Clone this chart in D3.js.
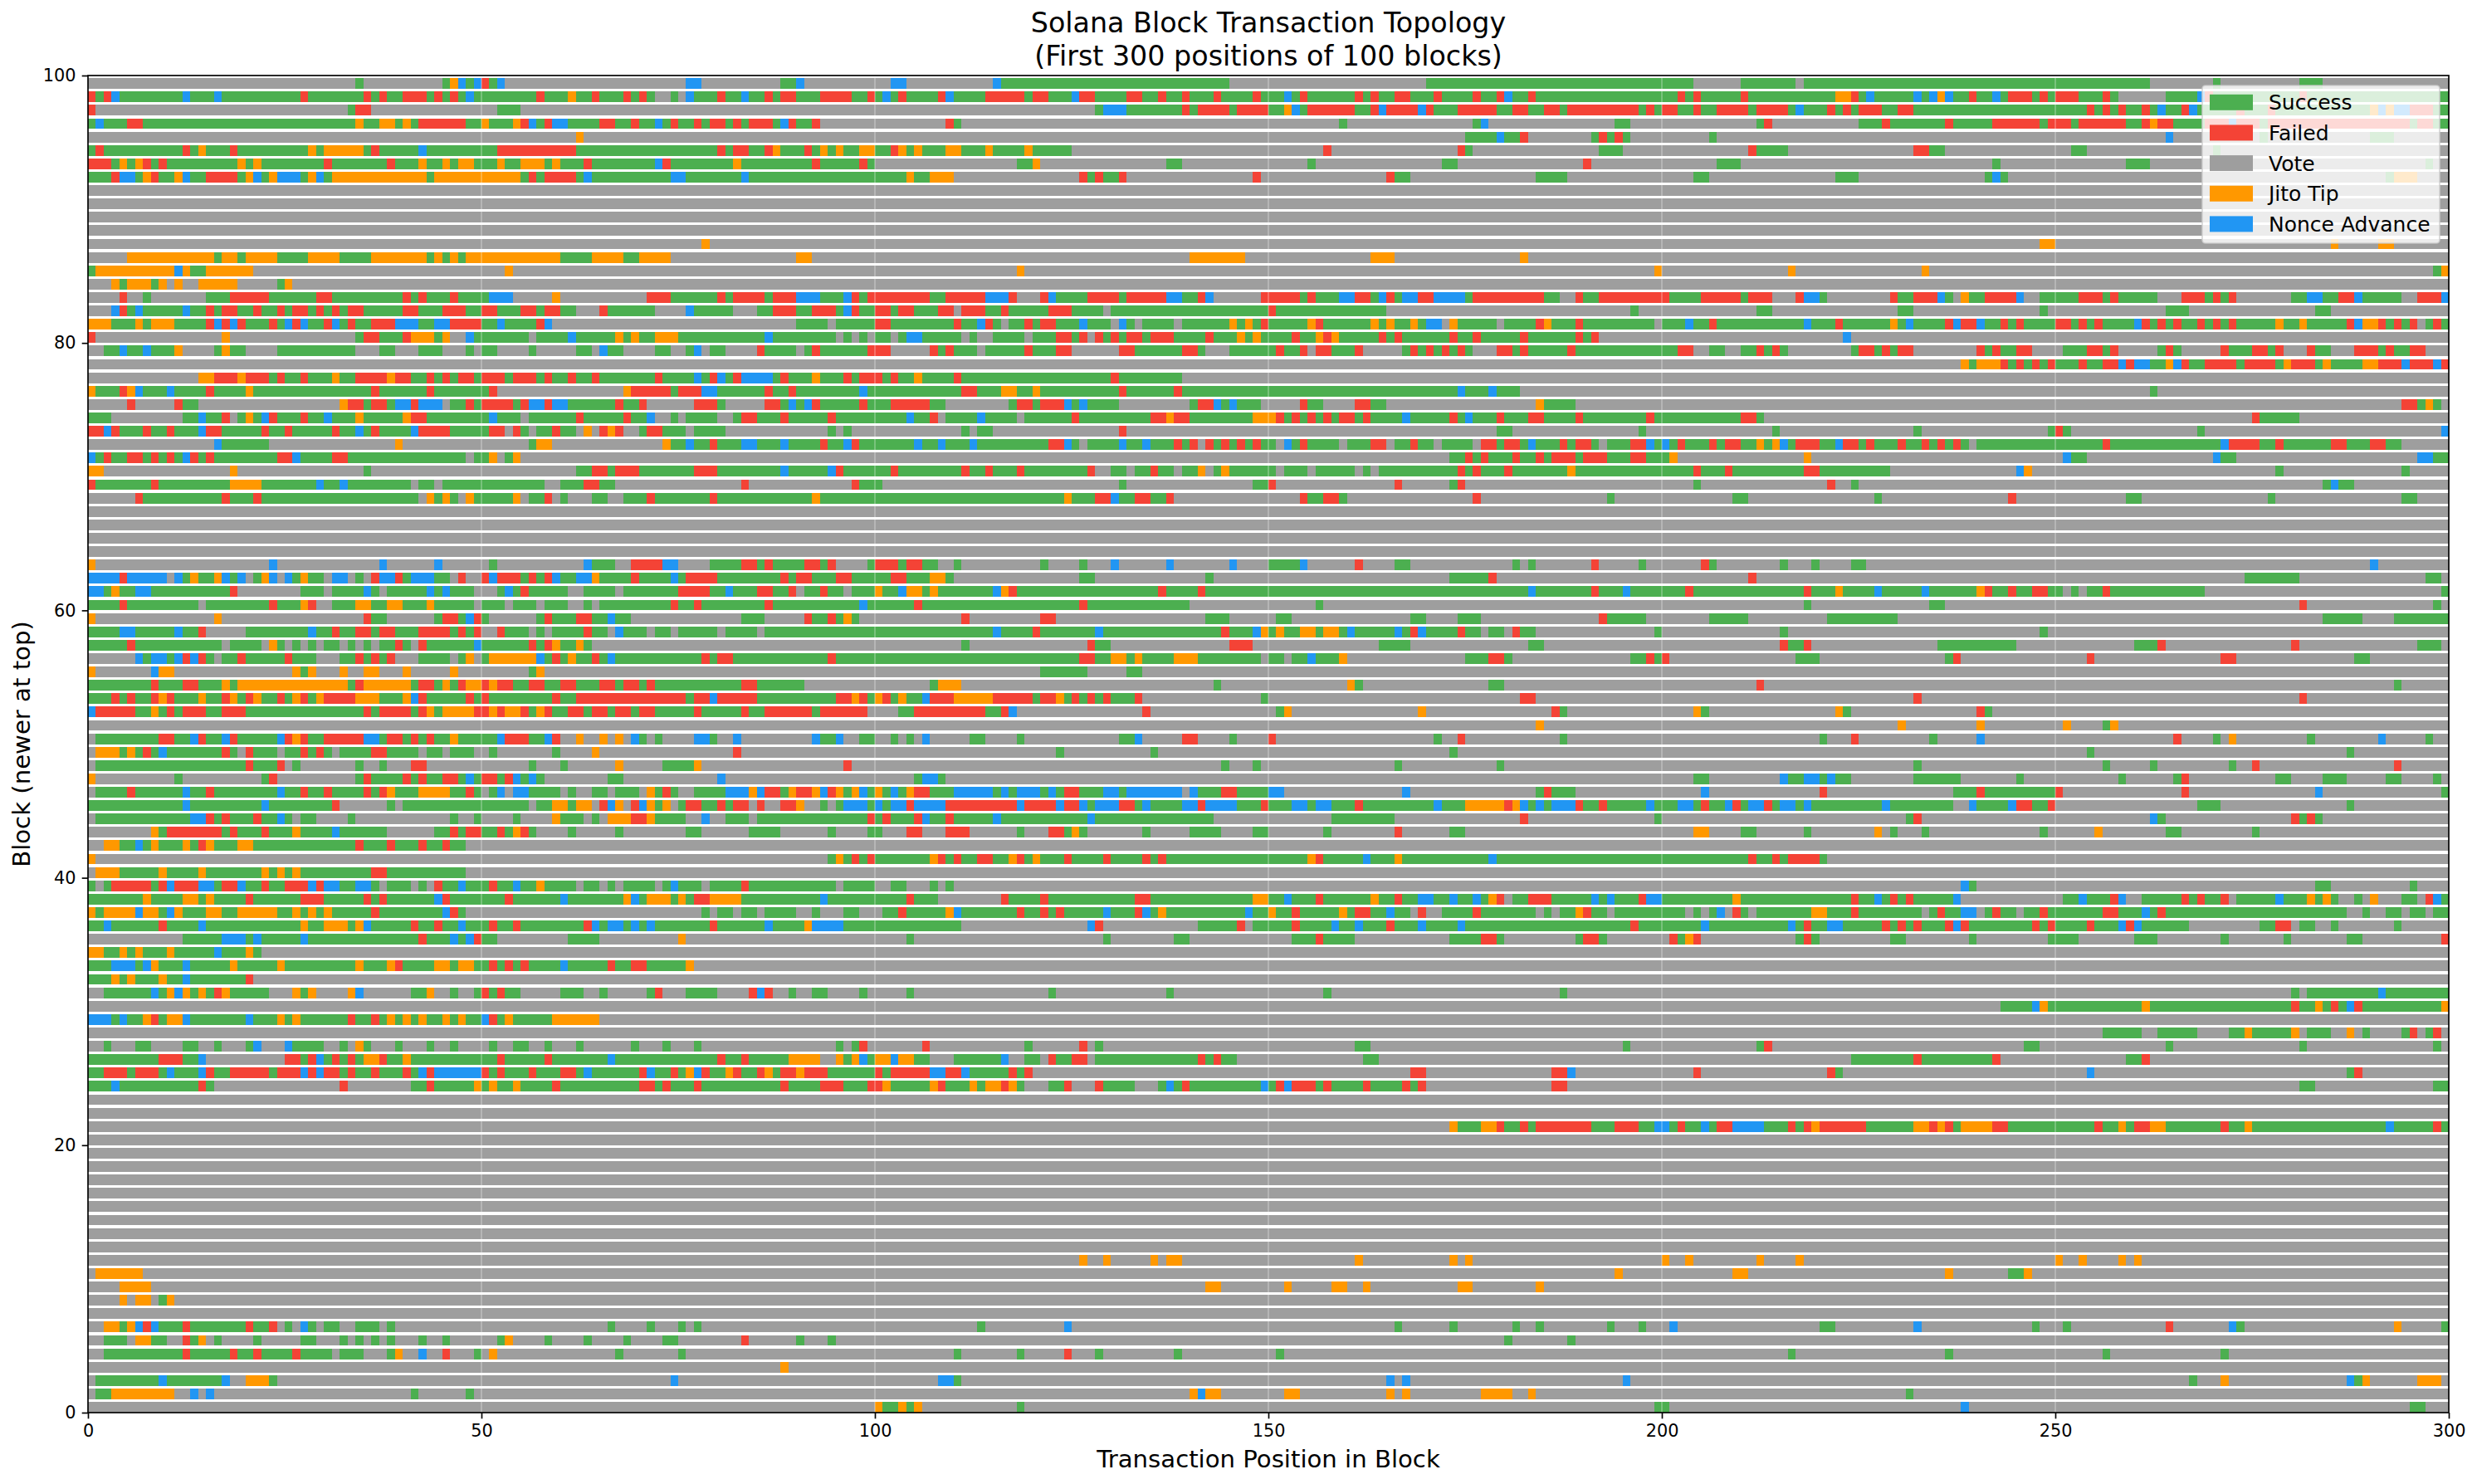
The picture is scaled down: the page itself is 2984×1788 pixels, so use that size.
<!DOCTYPE html>
<html>
<head>
<meta charset="utf-8">
<script src="https://d3js.org/d3.v7.min.js"></script>
<style>
html,body{margin:0;padding:0;background:#fff}
svg{display:block}
text{font-family:"DejaVu Sans",sans-serif;fill:#000}
</style>
</head>
<body>
<svg id="chart" width="2984" height="1788"></svg>
<script>
// Status categories: code letter, legend label, colour
const statusCodes = ["s","f","v","j","n"];
const statusLabels = ["Success","Failed","Vote","Jito Tip","Nonce Advance"];
const statusColors = ["#4CAF50","#F44336","#9E9E9E","#FF9800","#2196F3"];
const xTickValues = [0,50,100,150,200,250,300];
const yTickValues = [0,20,40,60,80,100];
const positionCount = 300;
const blockCount = 100;

// Each string is one block. "start:runs" = from position start, a list of status letter + run length.
// Anything not listed is a Vote. Listed top to bottom (block 99 first).
const blocks99to75 = [
"34:s 45:sjnsnfsn 76:n2 88:s2n 102:n2 115:ns29 170:s34 210:s7 218:s44 270:s 281:s3",
"0:fsfns8ns3ns10fs7fsfs2f3sfsfsns8fs3js2fs3fsfsv2svns3fs2ns2fsf2s3f4s2f 100:snsfs4fns4f5sf2s3nf2s4f2s2fs2fs3fs4fs3nsfs6fsfs2f2s3fs4fs2fns2fs16 200:s2fsfs5fs11j2fsns5nsnjns2fs2nsf3sfsf3s3fsv6s4nfs11fs18",
"0:f 33:sf2 52:s3 128:sn3s7fsf4sf4s2jnsf6s2fnf4nfs3f5s2f2s2f2sf9sfs 200:f2s2fs2f4sf4sns3fsfsf3s2f2s22fsfsfs2fsns2fns5fs3fs12jnjn2f3s2",
"0:sns3f2s27js2j2sjsf6s2js3jfnsfn2s4f2s2fs2nsfs2fsf2sfsf3snfs2f 109:fs 159:s 176:sn 194:s2 212:sf 225:s3fs7fs5f6sf3sf6s2fjf2s4f3nf3sf18sf2s2",
"62:j 175:s4ns2f 191:sfsfs 206:s 264:n 276:s 290:s3",
"0:sfs10fsjs3fs9jsj5sfs5ns9f10s18fsf2s2fjs3fsjsjs2j2 100:s2fjsjs3j2s3js4js5 157:f 174:fs 192:s3 211:fs4 232:f2s2 252:s2 270:s",
"0:f3sjsjfsfs9jsjs8fs7fs3js2jsj2s3js2j3sjs3fs8nfs8js9fs5fs 118:s2j 137:s2 155:s 172:s2 190:f 207:s3 242:s 259:s3 297:s",
"0:s3fn2sjfs2jns2f4sjnsjn3sjnsj12sj11sfsf4sns10n2s7ns20js2j3 126:fsfs2f 148:f 165:fs2 184:s4 204:s2 222:s3 241:sns 292:sj3",
"","","","",
"78:j 248:j2 285:j 291:j2",
"5:j11sj2sj4s4j4s4j7sjsjsj12s4j4s2j4 90:j2 140:j7 163:j3 182:j",
"0:sj10njs2j6 53:j 118:j 199:j 216:j 233:j 298:sj",
"3:jsj3sj 11:j 14:j5 24:sj",
"4:f 7:s 15:s3f5s6f2s9fsfs3fs4n3 59:j 71:f3s6fsf4sf3n3s3nfsf 99:f8s2f5n3f 118:v3fns4f4sf5n2s2fn 149:f5sfs3n2f2snfsn2f2n4sf9s2 189:fs2f8 200:fs4f5sf3 217:fn2s 229:fs2f3nsvjs2f4n 248:s5f3sfs5 266:f3sfsf 280:s2n2s2f2ns5 296:f3n",
"3:nfsns5ns2fsf2s2fs2fsf2sfsfsf2s5f2s3f3s2f2s3f2sf2s2 65:fs6 76:ns5 85:s2f3s2f3snfs2 100:f2sf2s3f2 111:f3s2fs5f3s4 130:s20fs14 196:s 212:s2 230:s2 248:s 264:s3 283:s2",
"0:j3s3jsj3s4fnfnfs3fsnfns2fnsfs2f3n3s2n2f4s2ns4fn 90:s4vs5f2s8fs2nfsvs2fsf2s3ns3vnsvs4vs6jsjsfs5jfs6jsjs2jsn2vjs5vs4fjs3fs9 200:s3ns2fs11ns3fs6jsns4fnf2ns2fsfs4f2sfsfs4nfsfsfs2fsfsfs5js2js5fnj2fsfsfvsfs",
"0:f 17:j 34:sf2s3fj3sj 48:ns7 57:s4ns5jsjs2j3s11ns8 96:s 98:s 100:s2 103:sn2s5 112:s 115:s4 120:s3f2sfvfsfsf2sf3s4fs3jsjs4fs2jfjs5fsfs6fs2fs5fs6fsf 223:n",
"2:s2ns2ns3j 16:sjs2 24:s10 37:s2 42:s3 48:s 50:s2 56:s 62:s2vns2 72:s2 76:sn 79:s2 85:fs4vsfs6f 99:f3 107:fsfs3vs5fs3f2 131:f2s6f2s 145:s6fs2fvf2s3f 167:sfsfsfsfs 179:f2sfs5fs11 200:s2f2 206:s2 210:s2fsfs 224:sf2sfsf2 240:fsfs2f2 251:s3f2sf 263:sfs 271:fs3f2sf 282:fs2 288:f3sfs2f2",
"238:jsj3fsfsfsfs3fs2f2nfn2s2jnfs2f4sf4sjf3sjs4j2f3nf3nf",
"14:j2f3jf3sfs2fs3js2f4jf2s2fsfsf2sf3sf3sfs2fs2fs7fs4nsfnsfn4sfs3js3fsf3sfs2js4fs19fs8",
"0:js3fjns3ns4fs4js15fs6fs7f 68:jf5sf3n2s6fs2fs8ns12f2s3j2s2js10fs6fs35ns3ns3 262:s",
"5:f 11:fs2 32:jf2sf2sn2fn3vs2fsf4sfn2fn2s6fs2f 77:f3s 86:f2snsnfs5fs3f5s2 117:sf2sf3nsns4 140:sf2nsns3 154:fs2 161:f2s2 184:js4 294:f2sjs"
];
const blocks74to50 = [
"0:s3 12:s2ns2fvsjsnfs3fs2ns3js5jf2s8ns3vs6fs5fs2nv2svs4v2sf2s3fs5fs9ns2fvs4ns4vs6fs9f2jf2s8j3fsfsfsfsf2sfs4ns5fsns3fs3f2s4fs8fs11f2s 275:fs5",
"0:f2nfs3fs2fs3nf2s5fs2fs5fs2nsfs4nf4s5f2vfsvs2fs2vjvfjfv2sf2s3vs4 94:s 96:s 111:s 113:s2 131:f 179:s2 197:s 214:s 232:s 249:sfs 268:s 299:n",
"16:ns6 39:j 56:sj2 73:js2ns2fs3n2s3ns4fs2nfs7ns2ns3ns9f2nsvs4ns2ns3fsfvfsfsfsfs2vnsfs4vs3f2vs2fs2vs4vf2sf2sns3fsf2svs3f2ns 200:nsfs3fsf2s2jsjnsf3s2nf2sfs3fs2fsfsfsvs16fs14nf4s2fs6f2s3f2s2",
"0:nsfs2f2sfsfsnfsfs8f2ns4f2s15vs2jvsj 173:s2fsfs3fs2fsf3sf3s3f2s3j 218:j 251:ns2 270:ns2 296:n2s2",
"0:j2 18:j 35:s 62:s2f2sf3s7f3s8ns5nfs6fs8fs2fs3fs8fv2s2vs2fs2vs2jvsjs6vs3vs5vsvs10fsfs3fs7js15fs3fs9f2s9 245:nj 278:s 294:s",
"0:fs7fs9j4s7ns2ns8vs2vs13v2s3f2s2 83:f 97:fs3 131:s 148:s2f 166:f 173:sf 204:s 221:f 224:s 284:sns2",
"6:fs10fs3fs20vjsjsvjs5jvs2fvsv3s2v2s3fs7fs12js31js3f2ns2f2s2f 154:fs2f2s 176:f 193:s 209:s2 227:s 244:f 259:s2 277:s 294:s2",
"","","","",
"0:j 23:n 37:n 44:n 51:s 63:ns3v2f4n2v4s4f2sfs4f2sfv4s 100:f3sf2s2v2s 121:s 126:s 130:n 137:n 145:n 150:s4n 161:f 166:s2 181:s 183:s 191:f 197:s 205:fs 215:s 219:s 224:s2 290:n",
"0:n4fn5vnsjs2jnsnvsjnvnsjs2vn2vsvfn2fsn3s2vfv2fnf3sfsfns2n2js4fs4nsf4s8fsf2s3f2s5f2s3j2s 126:s2 142:s 173:s5f 211:f 274:s7 297:s2",
"0:n2sjs2n2s10f 27:s3 31:s4nsvs5nsns3 52:snsfs5 63:s4 68:s7f4s2ns3f2s2fvs2fs2 97:s3js2nj2sjs7njfs18fs4fs41ns7fs3ns7fs14fs3js4ns5ns6jfs2fs2f2s2vsvs2fs12 299:s",
"0:s4fs9 15:s8fs3jf 31:s3j2s2j2s3js5 50:s3 54:s3 58:s3 63:s 65:s9fs2fs8fs11ns6fs20fs13 156:s 218:s 234:s2 281:f 298:s",
"0:j 16:j 35:fs2 44:sf2snfs 57:sfs3f2s2ns2 83:s3 91:fs2fsjs 111:f 121:f2 142:s3 151:s2 168:s2 174:s3 192:fs5 206:s5 221:s9 284:s5 293:s7",
"0:s4n2s5ns2f 20:s8ns2fs2f2sf2s3f4sfsf 52:fs3 57:s 59:s4fs2 67:ns3 72:s2 75:s5 81:s4 86:s29ns4fs7ns15fs3njsjs2j2sj2sns5nsfns4fs2 178:s2 181:fs2 199:s 215:s 248:s",
"0:s5fs11 18:s4 23:jsvsvsvs2vsvsvs2fsvfs6ns6fsfjs2js 111:s 127:fs2 145:f3 164:s4 183:s2 215:fs2f 235:s10 260:s3f 280:f 296:s3",
"6:nsn2snfnfs 17:s2fs5fs3 32:s2fsfsf 42:s4 47:sj 50:sj6nsfsjs2fsns11fsf2s12fs31f2s2j2sjs4j3s8vs2vs2ns3j 175:s3f2s 196:s2fs 200:f 217:s3 236:sf 254:f 271:f2 288:s2",
"0:j 8:nj2 26:jsj 32:j 35:j2 40:j 46:j 56:sj 121:s6 132:s2",
"0:s8fs3f2s3jsj14sfj6sf2sjsfj2fjf2s2f2s2f2s3f2sf2sfs11f2s6 107:sj3 143:s 160:js 178:s2 212:f 293:s",
"0:s3fsfs2fjfs3js2fjsfjs2fsjfsjf4j3s3jnfs5fsfs8fs2f14sf2nf5s10f2jfsjfsjs2nf3j5f5sf2jsfsfsfs3f 149:s 182:f2 232:f 281:f",
"0:nf5s2jsfsf3s2f3s15fsf4sfjsj4f2jfj2fsjfs2f2sf2sf2sf2s5fs5fs2f6sf6 103:s2f9s2fn 134:f 151:sj 169:j 186:fs 204:js 222:js 240:fs",
"184:j 230:j 240:j 251:j 256:sj",
"1:s8f2s2nfs2nfs5nfjfs2f5n2sf2sfsfs2js5nf3s2nf 62:j 65:j 67:j 69:ns 72:s 77:n2s 82:n 92:ns2n 98:s2 102:s 104:s 106:n 112:s2 118:s 131:s2n 139:f2 145:s 150:f 171:s 174:f 187:s 220:s 224:f 234:s 240:n 265:f 270:s 272:j 282:s 291:n 297:s"
];
const blocks49to25 = [
"1:j3sjsfsns7fsvfs3vs2fsfsvs4f2s4 43:s2 46:s3 51:s 59:s 64:j 82:f 123:s 135:s 173:s 254:s 287:s",
"1:s19fs3f 26:s 34:s 37:s 41:f2 56:s 60:s 67:j 73:s4j 96:f 144:s 148:s 166:s 179:s 232:s 256:s 262:s 272:s 275:f 293:f",
"0:j 11:s 22:sf 34:sfs4fsfs2f2snsf2sfnsns 66:s2 80:n 105:sn2s 204:s2 215:ns2n2sns2 232:s6 245:s 258:s 265:sf 278:s2 284:s3 292:s2 298:s",
"1:s4fs6ns2fs8ns2fs2fs4fsfjs3j4s2fsvsnvn2s4vsv2s2vs3vjsfsv2s4n3jnf2sjf2jnfjsjnsjsnsjf2s3n5snsn3snsf2s3n2sn7vns3f2s4n2 167:n 184:sfs3 205:n 220:f 237:s3fs9f 266:f 283:n 299:s",
"0:s12ns9ns8fv6svs16vs2j2sj2vfnjvfnjsjvsf2s2fsf2vfv2f2jv2svsn3snsn2fn4f9nf4nf2nsn3f2sns4n2fn4s3fs3n2sn2s3fs9ns3j5fjnsnsn3fs2fs5ns3n2sfs2nfsn2fsn2sns9ns8v2ns4nf2s2f 268:s3 287:s",
"1:s12n2fsfs3fs2nsvs2 33:s 46:s 49:s 54:s 59:js3vsvj3f2js4v2nv2s3vs14fsfs3fns2fs5ns11ns15 158:s8 182:f 199:s 231:sf 262:ns 280:fsfs",
"8:jsf7sfs3fs3js4ns6 44:s2fsf2s2fsjfs 61:s 67:s 76:s2 84:s4 94:s 99:s2 104:f2 109:f3 118:s 122:f2sjs 134:s 140:s4 148:s2 157:s 166:f 173:s2 204:j2 210:s2 218:s 227:j 229:s 233:s 248:s 255:j 264:s2 275:s",
"2:j2s2nsjs3jsfjs3j2s13fs3fs3fs2fs2",
"0:j 94:sjsfsf 100:s7jfsfs2f2s2jfsjs3fs4fs4fsfs18jfs5ns3js11ns32fs2fsf4s",
"1:j3s5js4js7jsjsjs9f2s10",
"0:svsf5sfnf3n2sf2ns2fs2f3nfn2s2n2svs3vsvfs2ns3fs2ns2js4vs2vsvs4vsns3vs4fs11vs4 102:s2 107:s 109:s 238:ns 283:s2 295:s",
"0:s7js4j2sjs4fs6f3s5fsfs6nfs7fs6ns7jnsj3sjsf2j4s10ns10fs3v8fs4fs11f2s13j2s2ns3fs6js2fs2n2s2ns2nsjfvs2f3s5nsns3fn2s9js14fs2nsfsfs5n 251:s2ns3fnv2s5fsfs2fvs5ns3jsjsv2svjv3s2vfns",
"0:jsj4nj2snjs3j2s2j5s2jsjsjs5fs8nfs 78:svs2vs2vs4v2sv3s2 101:s2fs5jns7fs2fsfs5ns3fnsjs10ns2js2fs5jsf2s2ns2vfv2s4fs7vsvs2jfs2vs9vsvsnvfsvs7j2s3fs8vsfs2n2vsfs2vs2fs7f2s3nsfs23v2sv2s2vs2vs2",
"0:s2ns6fs4ns12js2j3sjns5fs2fs2ns3fs2fs8fnsn2snsns7fs6ns4jn4s15 127:nf 141:s5fvs5fs4ns2ns3fs3ns4ns21fs8ns10nsfs2n2s5fsfsfs3fnfs8fsfs4fs3nfns6 276:s2f2vs2v2sv7s",
"12:s5n3sns5ns14fs3nsnfs2 61:s4 75:j 104:s 129:s 138:s2 153:s3fs4 173:s4f2s 189:sf2s 201:fsjf 217:sfs 229:s2 239:s 249:s4 260:s3 271:s 279:s 287:s2 299:f",
"0:j2s2jsjs3js5ns3js",
"0:s3n3snjs3ns5js5js9js3jfs4j2sj2s2fsfsfs4ns5fs2f2s5j",
"0:s3jsjs3js2ns7f",
"2:s6nsjnjsjsfjs5 26:jsj 33:jn 41:s2j 46:s 49:sfsfs2 60:s3 65:s 71:sf 76:s4 84:fnf 89:s 92:s2 98:s 104:s 122:s 137:s 157:s 187:s 280:s 282:s9ns8",
"243:s4njs12js18fs2jsfsnfs10j",
"0:n3sns2jfsj2ns7ns3jsjs6fs2fsjsjsjs2jsjs2nfsjs5j6",
"256:s5 263:s5 272:s2js5j 282:s3 287:j 289:s 294:sf 297:sf",
"2:s 6:s2 12:s2 16:s 20:sn 25:ns4 32:s 34:js 39:s 43:s 46:s 51:s 54:s2 58:s 62:s 69:s 73:s 77:s 95:s 97:sf 106:f 119:s 126:f 128:s 161:s2 195:s 212:sf 246:s2 264:s 281:s 298:s",
"0:s9f3s2n 25:f2sfnsfsfsj2fs2js11fs5fs7ns13fs2fs5j4 95:jsjnsj2nj2s2 110:s6n 119:s2 122:fs2f2 128:s13fsfs2 162:s2 224:s8fs9f 259:s2f",
"0:s2f3sf3sns3nfs2f5sf3nfnf2sfs2fs3fsnfn6fsfs3fs3f2sns6fns2fsjnfs2jfs2fjsf2jf3s6fsf5n2f2ns5fsf 168:f2 186:f2n 204:f 221:fs 254:n 287:sf"
];
const blocks24to0 = [
"0:s3ns10fs 32:f 41:s2fs5jsjs2js4fs10f2sfs3fs10fs4f3s3f2js5jfs3jsj2fjs 122:s2f 128:fs4 136:snsfs9nsfnf3sfs4fs4fsf 186:f2 281:s2 298:s2",
"","",
"173:js3j2fs2fsf7s3f3s2n 200:nsfs2nsf2n4s3fsfjf6s6j2fjfsj4f2s11fs2jsf2j2s7fs2js17ns5fs",
"","","","","","","","","",
"126:j 129:j 135:j 137:j2 161:j 173:j 175:j 200:j 203:j 212:j 217:j 250:j 253:j 258:j 260:j",
"1:j6 194:j 209:j2 236:j 244:s2j",
"4:j4 142:j2 152:j 158:j2 162:j 174:j2 184:j",
"4:j 6:j2 9:sj",
"",
"2:j2sjnfns3fs7fs2fvsvns 30:s2 34:s3 38:s 66:s 71:s 75:s 77:s 113:s 124:n 166:s 173:s 181:s 184:s 193:s 197:s 201:n 220:s2 232:n 247:s 251:s 264:f 272:ns 293:j 299:s",
"2:s3 6:j2s2 12:fsj 16:s 21:s 27:s2 32:s 34:s 36:s 38:s 42:s 45:s 52:sj 58:s 63:s 68:s 73:s2 83:f 90:s 94:s 180:s 188:s",
"2:s10fs5fs2fs4fs4 32:s3 38:sj 42:n 45:f 49:s 51:j 67:s 75:s 110:s 118:s 124:f 128:s 138:s 151:s 216:s 236:s 256:s 271:s",
"88:j",
"1:s8ns7n 20:j3s 74:n 108:n2s 165:n 167:n 195:n 267:s 271:j 287:nsj 296:j3",
"1:s2j8 13:n 15:n 41:s 48:s 140:jnj2 152:j2 165:j 167:j 177:j4 183:j 231:s",
"100:js2jsj 118:s 199:s2 238:n 295:s2"
];

const allBlocks = [...blocks99to75, ...blocks74to50, ...blocks49to25, ...blocks24to0];

function expandBlock(spec){
  const cells = new Array(positionCount).fill("v");
  spec.split(" ").filter(Boolean).forEach(tok => {
    const [start, runs] = tok.split(":");
    let p = +start;
    for (const m of runs.matchAll(/([sfvjn])(\d*)/g)) {
      const n = m[2] ? +m[2] : 1;
      for (let i = 0; i < n && p < positionCount; i++) cells[p++] = m[1];
    }
  });
  return cells;
}
function toRuns(cells, block){
  const runs = [];
  cells.forEach((c, i) => {
    const last = runs[runs.length - 1];
    if (last && last.status === c) last.len++;
    else runs.push({block, start: i, len: 1, status: c});
  });
  return runs;
}
const runs = allBlocks.flatMap((spec, i) => toRuns(expandBlock(spec), blockCount - 1 - i));

const plot = {left: 106, right: 2950, top: 91, bottom: 1702};
const x = d3.scaleLinear().domain([0, positionCount]).range([plot.left, plot.right]);
const y = d3.scaleLinear().domain([0, blockCount]).range([plot.bottom, plot.top]);
const color = d3.scaleOrdinal().domain(statusCodes).range(statusColors);
const barHeight = 0.8;

const svg = d3.select("#chart");
svg.append("rect").attr("width", 2984).attr("height", 1788).attr("fill", "#fff");

svg.append("g").attr("shape-rendering", "crispEdges")
  .selectAll("rect").data(runs).join("rect")
  .attr("x", d => x(d.start))
  .attr("width", d => x(d.start + d.len) - x(d.start))
  .attr("y", d => y(d.block + barHeight))
  .attr("height", d => y(d.block) - y(d.block + barHeight))
  .attr("fill", d => color(d.status));

// vertical grid
svg.append("g").selectAll("line").data(xTickValues.slice(1, -1)).join("line")
  .attr("x1", d => x(d)).attr("x2", d => x(d))
  .attr("y1", plot.top).attr("y2", plot.bottom)
  .attr("stroke", "#fff").attr("stroke-opacity", 0.3).attr("stroke-width", 1.67);

// axes
const tickFont = 20.83;
const gx = svg.append("g").attr("transform", `translate(0,${plot.bottom})`)
  .call(d3.axisBottom(x).tickValues(xTickValues).tickSize(7.3).tickPadding(7.3).tickFormat(d3.format("d")));
const gy = svg.append("g").attr("transform", `translate(${plot.left},0)`)
  .call(d3.axisLeft(y).tickValues(yTickValues).tickSize(7.3).tickPadding(7.3).tickFormat(d3.format("d")));
[gx, gy].forEach(g => {
  g.select(".domain").remove();
  g.selectAll(".tick line").attr("stroke", "#000").attr("stroke-width", 1.67);
  g.selectAll(".tick text").attr("font-size", tickFont).attr("font-family", '"DejaVu Sans"').attr("fill", "#000");
});

// spines
svg.append("rect")
  .attr("x", plot.left).attr("y", plot.top)
  .attr("width", plot.right - plot.left).attr("height", plot.bottom - plot.top)
  .attr("fill", "none").attr("stroke", "#000").attr("stroke-width", 1.67);

// titles
const cx = (plot.left + plot.right) / 2;
svg.append("text").attr("x", cx).attr("y", 38.5).attr("text-anchor", "middle").attr("font-size", 33.33)
  .text("Solana Block Transaction Topology");
svg.append("text").attr("x", cx).attr("y", 78.5).attr("text-anchor", "middle").attr("font-size", 33.33)
  .text("(First 300 positions of 100 blocks)");
svg.append("text").attr("x", cx).attr("y", 1768).attr("text-anchor", "middle").attr("font-size", 29.17)
  .text("Transaction Position in Block");
svg.append("text").attr("transform", `translate(36,${(plot.top + plot.bottom) / 2}) rotate(-90)`)
  .attr("text-anchor", "middle").attr("font-size", 29.17)
  .text("Block (newer at top)");

// legend
const legend = svg.append("g");
legend.append("rect").attr("x", 2653).attr("y", 103).attr("width", 286).attr("height", 190).attr("rx", 4)
  .attr("fill", "#fff").attr("fill-opacity", 0.8).attr("stroke", "#ccc").attr("stroke-opacity", 0.8).attr("stroke-width", 1.67);
const legendRows = legend.selectAll("g").data(statusLabels).join("g")
  .attr("transform", (d, i) => `translate(2662,${123.3 + i * 36.65})`);
legendRows.append("rect").attr("x", 0).attr("y", -9.5).attr("width", 52).attr("height", 19)
  .attr("fill", (d, i) => statusColors[i]);
legendRows.append("text").attr("x", 71).attr("y", 9).attr("font-size", 25).text(d => d);
</script>
</body>
</html>
